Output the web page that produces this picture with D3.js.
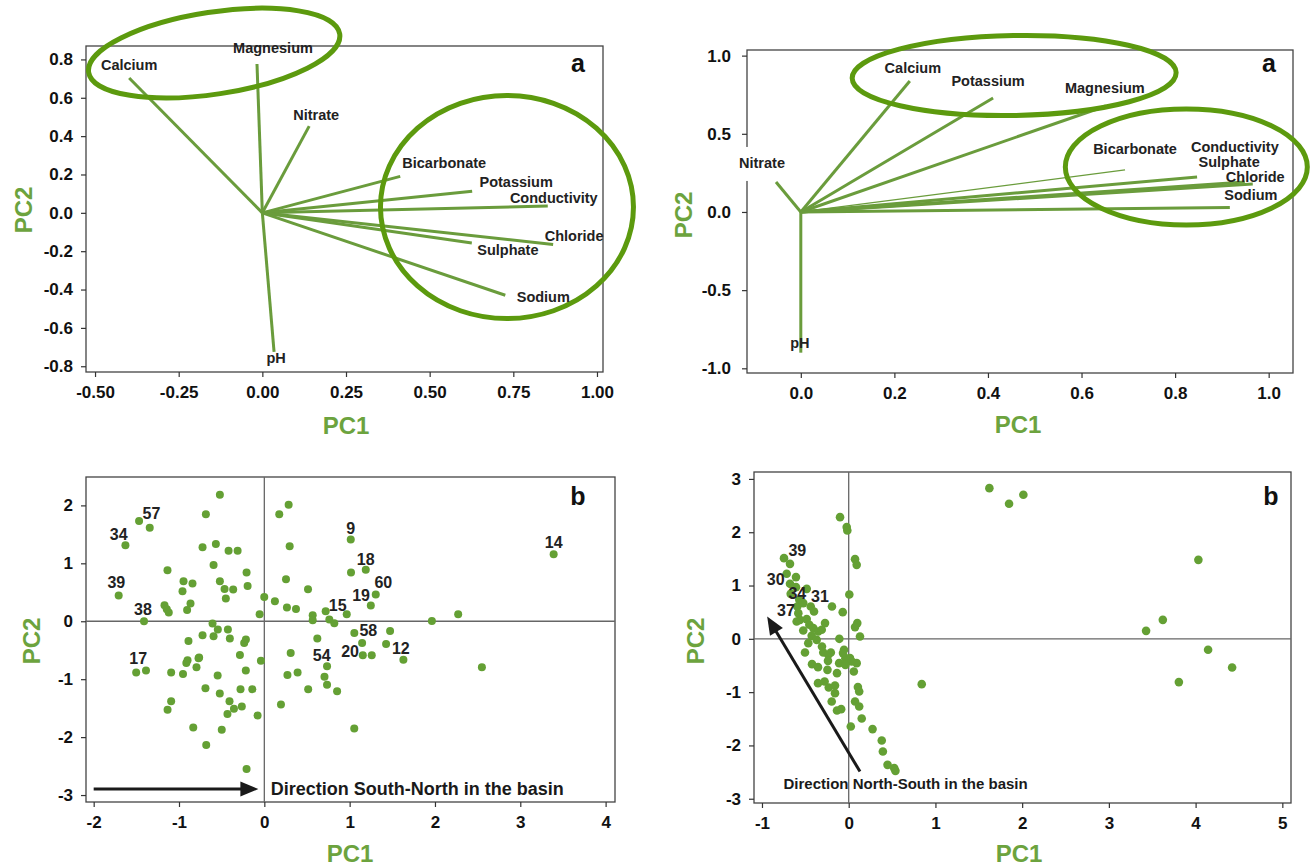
<!DOCTYPE html>
<html>
<head>
<meta charset="utf-8">
<script src="https://cdn.jsdelivr.net/npm/d3@7"></script>
<style>
  body { margin: 0; background: #fff; }
  svg { display: block; font-family: "Liberation Sans", Arial, sans-serif; font-weight: bold; }
</style>
</head>
<body>
<svg id="chart" width="1310" height="866"></svg>
<script>
// ---------- data ----------

// panel a (left): loadings
const tlVars = ["Calcium", "Magnesium", "Nitrate", "Bicarbonate", "Potassium", "Conductivity", "Chloride", "Sulphate", "Sodium", "pH"];
const tlPC1  = [-0.398, -0.016, 0.140, 0.412, 0.627, 0.853, 0.869, 0.626, 0.726, 0.035];
const tlPC2  = [0.703, 0.776, 0.452, 0.190, 0.113, 0.035, -0.165, -0.157, -0.430, -0.725];

// panel a (right): loadings
const trVars = ["Nitrate", "Calcium", "Potassium", "Magnesium", "Bicarbonate", "Conductivity", "Sulphate", "Chloride", "Sodium", "pH"];
const trPC1  = [-0.053, 0.233, 0.411, 0.652, 0.693, 0.949, 0.847, 0.966, 0.917, 0.000];
const trPC2  = [0.192, 0.838, 0.729, 0.678, 0.269, 0.192, 0.224, 0.179, 0.029, -0.900];

// panel b (left): scores, site number where printed
const blPC1 = [-1.343, -1.628, -1.707, -1.410, 1.013, 3.391, 1.189, 1.306, 1.248, 0.966, 1.055, 1.630, 1.154, 0.735, -1.502,
  -1.468, -0.521, -0.685, -0.724, -0.568, -0.419, -0.313, -1.135, -0.595, -0.208, -0.947, -0.842, -0.521, -0.466, -0.365,
  -0.196, -0.959, -0.451, -1.170, -1.143, -1.120, -0.865, -0.905, -0.001, -0.055, 0.175, 0.285, 0.297, 0.254, 0.512,
  0.124, 0.265, 0.371, 0.567, 0.567, 0.719, 0.762, 0.820, 1.016, 1.964, 2.272, -0.607, -0.545, -0.427, -0.724,
  -0.595, -0.404, -0.889, -0.216, -0.236, 0.621, 0.309, -0.286, -0.764, -0.900, -0.040, 1.474, 1.146, 1.427, 1.259,
  -1.387, -1.092, -0.953, -0.914, -0.795, -0.771, -0.547, -0.217, -0.690, -0.522, -0.279, -0.141, -1.092, -1.134, -0.408,
  -0.356, -0.264, -0.432, -0.079, -0.833, -0.499, -0.681, -0.208, 0.271, 0.390, 0.195, 0.514, 0.705, 0.735, 0.853,
  1.054, 2.550];
const blPC2 = [1.616, 1.310, 0.443, 0.000, 1.409, 1.155, 0.891, 0.460, 0.271, 0.121, -0.202, -0.664, -0.586, -0.776, -0.884,
  1.729, 2.184, 1.845, 1.276, 1.333, 1.219, 1.219, 0.879, 0.971, 0.840, 0.690, 0.650, 0.690, 0.557, 0.547,
  0.609, 0.517, 0.391, 0.276, 0.207, 0.150, 0.305, 0.195, 0.419, 0.121, 1.845, 2.012, 1.293, 0.724, 0.552,
  0.345, 0.236, 0.212, 0.103, 0.017, 0.172, 0.029, -0.034, 0.840, 0.005, 0.121, -0.040, -0.143, -0.143, -0.241,
  -0.259, -0.298, -0.340, -0.316, -0.374, -0.298, -0.547, -0.581, -0.626, -0.672, -0.681, -0.167, -0.374, -0.391, -0.586,
  -0.850, -0.884, -0.909, -0.719, -0.793, -0.638, -0.936, -0.850, -1.155, -1.247, -1.172, -1.172, -1.379, -1.529, -1.379,
  -1.512, -1.471, -1.603, -1.626, -1.833, -1.874, -2.138, -2.552, -0.926, -0.884, -1.436, -1.172, -0.960, -1.098, -1.207,
  -1.850, -0.793];
const blSite = ["57", "34", "39", "38", "9", "14", "18", "60", "19", "15", "58", "12", "20", "54", "17"];

// panel b (right): scores
const brPC1 = [-0.677, -0.677, -0.669, -0.193, -0.593,
  -0.746, -0.715, -0.608, -0.608, -0.484, -0.570, -0.524, -0.438, -0.400, -0.581, -0.562, -0.600, -0.484, -0.524, -0.454,
  -0.408, -0.351, -0.273, -0.311, -0.427, -0.369, -0.466, -0.504, -0.293, -0.235, -0.069, -0.108, -0.054, -0.100, -0.023,
  -0.016, 0.073, 0.092, 0.007, 0.099, 0.073, 0.130, 0.015, 1.622, 1.849, 2.014, 4.032, 3.622, 3.429, 4.144,
  4.421, 3.807, 0.842, -0.423, -0.354, -0.354, -0.278, -0.230, -0.158, -0.135, -0.158, -0.196, -0.135, -0.087, -0.245,
  -0.206, -0.110, -0.038, 0.035, 0.092, 0.059, -0.038, 0.106, 0.121, 0.073, 0.121, 0.150, 0.024, 0.275, 0.381,
  0.394, 0.448, 0.525, 0.539, -0.308, -0.066, -0.239];
const brPC2 = [1.407, 1.032, 0.844, 0.606, 0.606,
  1.514, 1.220, 1.158, 0.970, 0.938, 0.732, 0.670, 0.606, 0.512, 0.482, 0.356, 0.325, 0.370, 0.156, 0.263,
  0.201, 0.137, 0.295, 0.169, 0.056, -0.019, -0.081, -0.257, -0.257, -0.300, 0.501, 0.000, -0.206, 2.283, 2.096,
  2.032, 1.495, 1.388, 0.831, 0.295, 0.220, 0.043, -0.362, 2.827, 2.533, 2.702, 1.482, 0.356, 0.150, -0.206,
  -0.538, -0.812, -0.850, -0.475, -0.531, -0.831, -0.801, -0.914, -0.876, -0.644, -1.019, -1.176, -1.345, -1.319, -0.582,
  -0.257, -0.456, -0.362, -0.426, -0.456, -0.614, -0.488, -0.906, -0.989, -1.176, -1.270, -1.495, -1.645, -1.694, -1.908,
  -2.114, -2.364, -2.426, -2.477, -0.144, -0.268, -0.413];
const brSite = ["39", "30", "34", "31", "37"];

// arrows (start, end) and their captions
const blArrowPC1 = [-2.0, -0.07];
const blArrowPC2 = [-2.897, -2.897];
const blCaption = "Direction South-North in the basin";
const brArrowPC1 = [0.13, -0.94];
const brArrowPC2 = [-2.49, 0.42];
const brCaption = "Direction North-South in the basin";

// ---------- drawing ----------
const svg = d3.select("#chart");
const lineGreen = "#6a9c3c";
const ringGreen = "#5c9a0e";
const dotGreen = "#64a034";
const titleGreen = "#6ca33e";

// R prints a plain hyphen for negatives, not the unicode minus d3 uses
const fmt = f => d => d3.format(f)(d).replace("\u2212", "-");

function panel(o) {
  const x = d3.scaleLinear().domain(o.xDom).range([o.left, o.right]);
  const y = d3.scaleLinear().domain(o.yDom).range([o.bottom, o.top]);
  const g = svg.append("g");

  g.append("rect")
    .attr("x", o.left).attr("y", o.top)
    .attr("width", o.right - o.left).attr("height", o.bottom - o.top)
    .attr("fill", "none").attr("stroke", "#444").attr("stroke-width", 1.3);

  const xAxis = d3.axisBottom(x).tickValues(o.xTicks).tickFormat(fmt(o.xFmt))
    .tickSize(5).tickSizeOuter(0).tickPadding(9);
  const yAxis = d3.axisLeft(y).tickValues(o.yTicks).tickFormat(fmt(o.yFmt))
    .tickSize(5).tickSizeOuter(0).tickPadding(o.yPad || 8);

  g.append("g").attr("transform", `translate(0,${o.bottom})`).call(xAxis).call(styleAxis);
  g.append("g").attr("transform", `translate(${o.left},0)`).call(yAxis).call(styleAxis);

  g.append("text").attr("x", o.pc1[0]).attr("y", o.pc1[1])
    .attr("text-anchor", "middle").attr("dominant-baseline", "central")
    .attr("font-size", 24).attr("fill", titleGreen).text("PC1");
  g.append("text")
    .attr("transform", `translate(${o.pc2[0]},${o.pc2[1]}) rotate(-90)`)
    .attr("text-anchor", "middle").attr("dominant-baseline", "central")
    .attr("font-size", 24).attr("fill", titleGreen).text("PC2");

  g.append("text").attr("x", o.tag[0]).attr("y", o.tag[1])
    .attr("text-anchor", "middle").attr("dominant-baseline", "central")
    .attr("font-size", 25).attr("fill", "#111").text(o.tagText);

  return { g, x, y };
}

function styleAxis(sel) {
  sel.attr("font-family", null).attr("font-size", null);
  sel.select(".domain").remove();
  sel.selectAll(".tick line").attr("stroke", "#333").attr("stroke-width", 1.2);
  sel.selectAll(".tick text").attr("font-size", 17).attr("font-weight", "bold").attr("fill", "#111");
}

function ring(p, e) {
  p.g.append("ellipse")
    .attr("transform", `translate(${p.x(e.cx)},${p.y(e.cy)}) rotate(${e.rot || 0})`)
    .attr("rx", e.rx).attr("ry", e.ry)
    .attr("fill", "none").attr("stroke", ringGreen).attr("stroke-width", 5);
}

function loadings(p, vars, pc1, pc2, offsets, opts) {
  const rows = vars.map((v, i) => ({ v, x: pc1[i], y: pc2[i] }));
  p.g.append("g").selectAll("line").data(rows).join("line")
    .attr("x1", p.x(0)).attr("y1", p.y(0))
    .attr("x2", d => p.x(d.x)).attr("y2", d => p.y(d.y))
    .attr("stroke", lineGreen)
    .attr("stroke-width", d => (opts.thin || []).includes(d.v) ? 1.2 : 3);
  (opts.rings || []).forEach(e => ring(p, e));
  const lab = p.g.append("g").selectAll("g").data(rows).join("g")
    .attr("transform", d => `translate(${p.x(d.x) + offsets[d.v][0]},${p.y(d.y) + offsets[d.v][1]})`);
  lab.filter(d => (opts.whiteBg || []).includes(d.v)).append("rect")
    .attr("x", -28).attr("y", -16).attr("width", 56).attr("height", 34).attr("fill", "#fff");
  lab.append("text")
    .attr("text-anchor", "middle").attr("dominant-baseline", "central")
    .attr("font-size", 14.5).attr("fill", "#222")
    .text(d => d.v);
}

function scores(p, pc1, pc2, sites, offsets, r) {
  const rows = pc1.map((v, i) => ({ x: v, y: pc2[i], s: sites[i] || "" }));
  p.g.append("line").attr("x1", p.x(0)).attr("x2", p.x(0))
    .attr("y1", p.y.range()[0]).attr("y2", p.y.range()[1])
    .attr("stroke", "#666").attr("stroke-width", 1.3);
  p.g.append("line").attr("y1", p.y(0)).attr("y2", p.y(0))
    .attr("x1", p.x.range()[0]).attr("x2", p.x.range()[1])
    .attr("stroke", "#666").attr("stroke-width", 1.3);
  p.g.append("g").selectAll("circle").data(rows).join("circle")
    .attr("cx", d => p.x(d.x)).attr("cy", d => p.y(d.y)).attr("r", r)
    .attr("fill", dotGreen);
  p.g.append("g").selectAll("text").data(rows.filter(d => d.s)).join("text")
    .attr("x", d => p.x(d.x) + offsets[d.s][0])
    .attr("y", d => p.y(d.y) + offsets[d.s][1])
    .attr("text-anchor", "middle").attr("dominant-baseline", "central")
    .attr("font-size", 16).attr("fill", "#222")
    .text(d => d.s);
}

function arrow(p, xs, ys) {
  const x1 = p.x(xs[0]), y1 = p.y(ys[0]), x2 = p.x(xs[1]), y2 = p.y(ys[1]);
  const a = Math.atan2(y2 - y1, x2 - x1), len = 18, w = 7.5;
  const bx = x2 - len * Math.cos(a), by = y2 - len * Math.sin(a);
  p.g.append("line").attr("x1", x1).attr("y1", y1).attr("x2", bx + 2 * Math.cos(a)).attr("y2", by + 2 * Math.sin(a))
    .attr("stroke", "#1a1a1a").attr("stroke-width", 3);
  p.g.append("path")
    .attr("d", `M${x2},${y2}L${bx - w * Math.sin(a)},${by + w * Math.cos(a)}L${bx + w * Math.sin(a)},${by - w * Math.cos(a)}Z`)
    .attr("fill", "#1a1a1a");
}

// top-left
const tl = panel({
  left: 86, right: 603, top: 46, bottom: 372,
  xDom: [-0.527, 1.018], yDom: [-0.83, 0.87],
  xTicks: [-0.5, -0.25, 0, 0.25, 0.5, 0.75, 1], xFmt: ".2f",
  yTicks: [-0.8, -0.6, -0.4, -0.2, 0, 0.2, 0.4, 0.6, 0.8], yFmt: ".1f",
  pc1: [346, 425], pc2: [23, 210], tag: [578, 63], tagText: "a"
});
loadings(tl, tlVars, tlPC1, tlPC2, {
  Calcium: [0, -13], Magnesium: [16, -16], Nitrate: [7, -11], Bicarbonate: [44, -13],
  Potassium: [44, -9], Conductivity: [6, -8], Chloride: [21, -8], Sulphate: [36, 7],
  Sodium: [38, 2], pH: [2, 6]
}, {
  rings: [
    { cx: -0.144, cy: 0.833, rx: 127, ry: 41, rot: -8.7 },
    { cx: 0.731, cy: 0.030, rx: 126.5, ry: 111.5 }
  ]
});

// top-right
const tr = panel({
  left: 747, right: 1293, top: 50, bottom: 373,
  xDom: [-0.115, 1.052], yDom: [-1.03, 1.036],
  xTicks: [0, 0.2, 0.4, 0.6, 0.8, 1], xFmt: ".1f",
  yTicks: [-1, -0.5, 0, 0.5, 1], yFmt: ".1f", yPad: 11,
  pc1: [1018, 424], pc2: [683, 215], tag: [1269, 63], tagText: "a"
});
loadings(tr, trVars, trPC1, trPC2, {
  Nitrate: [-14, -19], Calcium: [3, -13], Potassium: [-5, -17], Magnesium: [-1, -18],
  Bicarbonate: [10, -21], Conductivity: [-10, -35], Sulphate: [32, -15], Chloride: [2.5, -7],
  Sodium: [21, -12.5], pH: [-1, -10]
}, {
  thin: ["Bicarbonate"],
  whiteBg: ["Nitrate"],
  rings: [
    { cx: 0.456, cy: 0.873, rx: 162, ry: 40, rot: -1 },
    { cx: 0.824, cy: 0.288, rx: 121, ry: 58 }
  ]
});

// bottom-left
const bl = panel({
  left: 86, right: 615, top: 477, bottom: 802,
  xDom: [-2.09, 4.11], yDom: [-3.12, 2.49],
  xTicks: [-2, -1, 0, 1, 2, 3, 4], xFmt: "d",
  yTicks: [-3, -2, -1, 0, 1, 2], yFmt: "d",
  pc1: [350, 853], pc2: [31, 641], tag: [578, 496], tagText: "b"
});
scores(bl, blPC1, blPC2, blSite, {
  "57": [1.7, -14.6], "34": [-6.7, -11], "39": [-2.3, -12.6], "38": [-1, -11.7], "9": [0, -11.6],
  "14": [0, -11.7], "18": [0, -10], "60": [7.6, -12.3], "19": [-9.7, -10], "15": [-9, -8.7],
  "58": [14, -2.7], "12": [-2.6, -11.2], "20": [-12.7, -4], "54": [-5.3, -10.3], "17": [2, -14]
}, 4);
arrow(bl, blArrowPC1, blArrowPC2);
bl.g.append("text").attr("x", bl.x(0.075)).attr("y", bl.y(blArrowPC2[0]))
  .attr("dominant-baseline", "central").attr("font-size", 18).attr("fill", "#1a1a1a")
  .text(blCaption);

// bottom-right
const br = panel({
  left: 754, right: 1291, top: 472, bottom: 803,
  xDom: [-1.092, 5.10], yDom: [-3.08, 3.13],
  xTicks: [-1, 0, 1, 2, 3, 4, 5], xFmt: "d",
  yTicks: [-3, -2, -1, 0, 1, 2, 3], yFmt: "d",
  pc1: [1019, 853], pc2: [695, 641], tag: [1271, 496], tagText: "b"
});
scores(br, brPC1, brPC2, brSite, {
  "39": [7.3, -13.3], "30": [-14.3, -4], "34": [6.6, -0.7], "31": [-12, -10], "37": [-11.3, 4]
}, 4.3);
arrow(br, brArrowPC1, brArrowPC2);
br.g.append("text").attr("x", br.x(0.656)).attr("y", br.y(-2.72))
  .attr("text-anchor", "middle").attr("dominant-baseline", "central")
  .attr("font-size", 15).attr("fill", "#1a1a1a")
  .text(brCaption);
</script>
</body>
</html>
